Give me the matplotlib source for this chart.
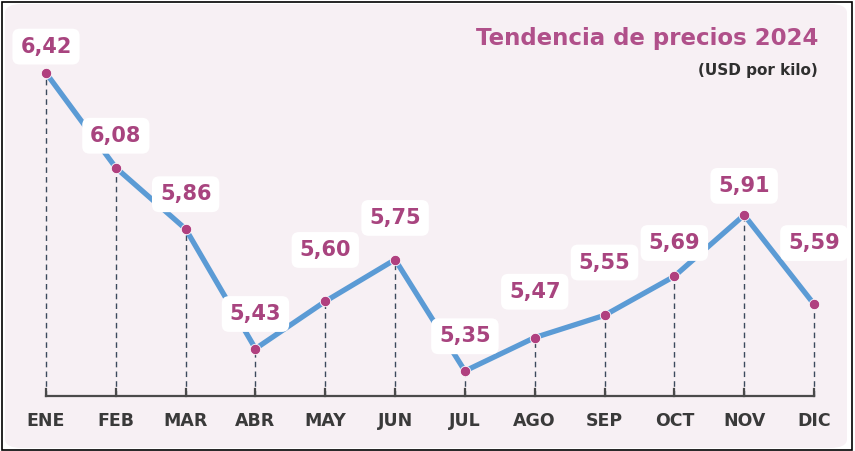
import matplotlib.pyplot as plt
from matplotlib.patches import FancyBboxPatch, Rectangle

months = ['ENE', 'FEB', 'MAR', 'ABR', 'MAY', 'JUN', 'JUL', 'AGO', 'SEP', 'OCT', 'NOV', 'DIC']
prices = [6.42, 6.08, 5.86, 5.43, 5.60, 5.75, 5.35, 5.47, 5.55, 5.69, 5.91, 5.59]
title = 'Tendencia de precios 2024'
subtitle = '(USD por kilo)'

# label offsets above each point (points)
label_dy = [19, 23, 25, 25, 37, 30, 25, 33, 38, 24, 21, 44]

W, H = 855, 451
fig = plt.figure(figsize=(W / 100, H / 100), dpi=100)
fig.patch.set_facecolor('white')

# rounded panel + black frame
panel = FancyBboxPatch((5 / W, 3 / H), 842 / W, 444 / H,
                       boxstyle='round,pad=0,rounding_size=0.02',
                       transform=fig.transFigure, facecolor='#f7f0f4',
                       edgecolor='none', zorder=-1)
fig.patches.append(panel)
fig.patches.append(Rectangle((2 / W, 1 / H), 850 / W, 448 / H, transform=fig.transFigure,
                             fill=False, edgecolor='black', linewidth=1.2, zorder=5))

ax = fig.add_axes([0, 0, 1, 1])
ax.set_zorder(2)
ax.set_facecolor('none')
ax.axis('off')

x = list(range(len(months)))
step = 69.8
ax.set_xlim(-46 / step, 11 + (W - 814) / step)
ppu = 278.5
ax.set_ylim(6.42 - (H - 73) / ppu, 6.42 + 73 / ppu)
base = 6.42 - (396 - 73) / ppu

# baseline and ticks
ax.plot([0, 11], [base, base], color='#4a4a4a', lw=1.6, zorder=2)
for xi, v in zip(x, prices):
    ax.plot([xi, xi], [base, v], color='#3c4a5c', lw=1.0, ls=(0, (4, 3)), zorder=1)
    ax.plot([xi, xi], [base, base + 0.025], color='#4a4a4a', lw=1.6, zorder=2)

ax.plot(x, prices, color='#5b9bd5', lw=3.8, solid_capstyle='round', zorder=3)
ax.plot(x, prices, 'o', color='#b0407f', markersize=7.5, markeredgecolor='white',
        markeredgewidth=0.6, zorder=4)

for xi, v, dy in zip(x, prices, label_dy):
    ax.annotate(f'{v:.2f}'.replace('.', ','), (xi, v), xytext=(0, dy),
                textcoords='offset points', ha='center', va='center',
                fontsize=15, color='#a8447f', fontfamily='DejaVu Sans', fontweight='bold',
                bbox=dict(boxstyle='round,pad=0.38,rounding_size=0.35', fc='white', ec='none'),
                zorder=6)

for xi, m in zip(x, months):
    ax.text(xi, base - 0.09, m, ha='center', va='center', fontsize=12.5,
            color='#3a3a3a', fontfamily='DejaVu Sans', fontweight='bold')

fig.text(818 / W, 1 - 38 / H, title, ha='right', va='center', fontsize=16.5,
         color='#b0508a', fontfamily='DejaVu Sans', fontweight='bold')
fig.text(818 / W, 1 - 70 / H, subtitle, ha='right', va='center', fontsize=11,
         color='#2f2f2f', fontfamily='DejaVu Sans', fontweight='bold')

fig.savefig('out.png', dpi=100)
